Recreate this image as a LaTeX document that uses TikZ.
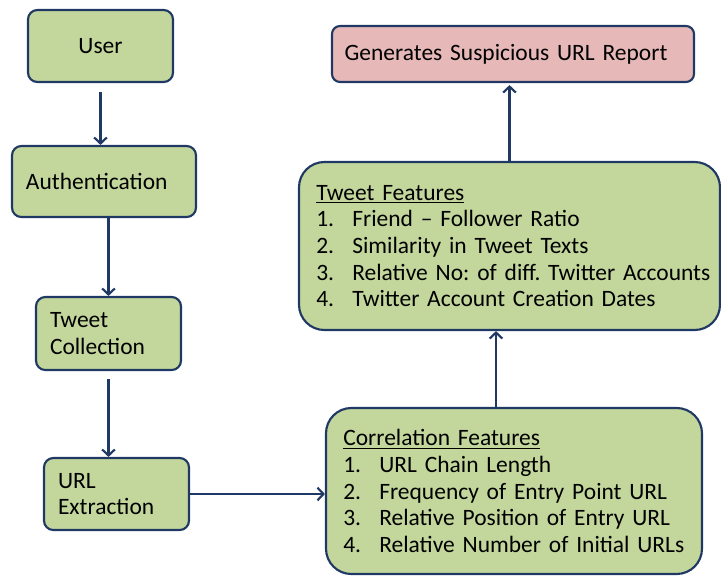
\documentclass[tikz,border=0pt]{standalone}
\usepackage{fontspec}
\setmainfont{Carlito}[WordSpace=0.85]
\usetikzlibrary{arrows.meta}
\definecolor{boxgreen}{HTML}{C3D69B}
\definecolor{boxpink}{HTML}{E6B9B8}
\definecolor{navy}{HTML}{1F3864}
\newcommand{\itm}[2]{\mbox{\makebox[27pt][l]{#1}#2}}

\begin{document}
\frenchspacing
\hyphenpenalty=10000
\begin{tikzpicture}[x=0.75pt, y=-0.75pt,
    every node/.style={font=\fontsize{17.6}{20}\selectfont},
    stage/.style={rectangle, rounded corners=7pt, draw=navy, line width=1.6pt, fill=boxgreen, align=left, inner xsep=10.5pt, inner ysep=0pt},
    feats/.style={rectangle, rounded corners=19pt, draw=navy, line width=1.6pt, fill=boxgreen, align=left, inner xsep=13pt, inner ysep=0pt},
    report/.style={rectangle, rounded corners=6pt, draw=navy, line width=1.6pt, fill=boxpink, align=left, inner xsep=9.5pt, inner ysep=0pt},
    arrow/.style={-{Straight Barb[length=4.5pt, width=9.5pt, line width=1.6pt]}, draw=navy, line width=1.6pt}]

  \useasboundingbox (0,0) rectangle (721,576);

  \node[stage, align=center, minimum width=108.75pt, minimum height=54pt] (user) at (100.5,46) {User};
  \node[stage, text width=117pt, minimum height=53.25pt] (auth) at (104,181.5) {Authentication};
  \node[stage, text width=87.75pt, minimum height=54.75pt] (tweet) at (108.5,333.5) {Tweet\\Collection};
  \node[stage, text width=87.75pt, minimum height=54pt] (urlx) at (116.5,494) {URL\\Extraction};

  \node[feats, text width=256pt, minimum height=124.5pt] (corr) at (514,491)
    {\underline{Correlation Features}\\
     \itm{1.}{URL Chain Length}\\
     \itm{2.}{Frequency of Entry Point URL}\\
     \itm{3.}{Relative Position of Entry URL}\\
     \itm{4.}{Relative Number of Initial URLs}};

  \node[feats, text width=289.75pt, minimum height=126pt] (feat) at (509.5,246)
    {\underline{Tweet Features}\\
     \itm{1.}{Friend -- Follower Ratio}\\
     \itm{2.}{Similarity in Tweet Texts}\\
     \itm{3.}{Relative No: of diff. Twitter Accounts}\\
     \itm{4.}{Twitter Account Creation Dates}};

  \node[report, text width=252.5pt, minimum height=42pt] (rep) at (513,54) {Generates Suspicious URL Report};

  \draw[arrow] ([yshift=-7pt]user.south) -- (user.south |- auth.north);
  \draw[arrow] (tweet.north |- auth.south) -- (tweet.north);
  \draw[arrow] ([yshift=-6pt]tweet.south) -- (tweet.south |- urlx.north);
  \draw[arrow] (urlx.east) -- (urlx.east -| corr.west);
  \draw[arrow] ([xshift=-13.5pt]corr.north) -- ([xshift=-13.5pt]corr.north |- feat.south);
  \draw[arrow] (feat.north) -- ([yshift=-1.5pt]feat.north |- rep.south);
\end{tikzpicture}
\end{document}
